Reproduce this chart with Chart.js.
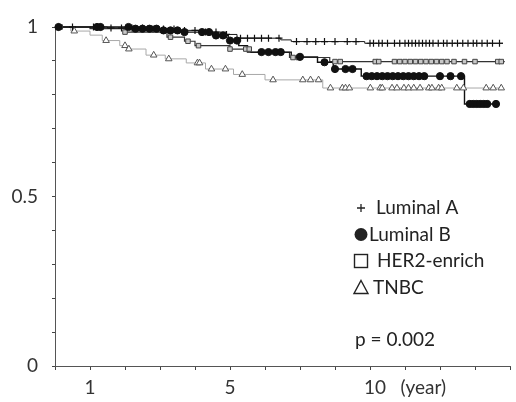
<!DOCTYPE html>
<html>
<head>
<meta charset="utf-8">
<script src="https://cdn.jsdelivr.net/npm/chart.js@4.4.1/dist/chart.umd.min.js"></script>
<style>
  html, body { margin: 0; padding: 0; background: #fff; }
</style>
</head>
<body>
<canvas id="kmChart" width="516" height="402"></canvas>
<script>
// groups, in legend order
const groups = ['Luminal A', 'Luminal B', 'HER2-enrich', 'TNBC'];

// Kaplan-Meier steps: time of drop (years) and survival after the drop
const lumAEventTimes = [1.5, 2.6, 3.5, 4.3, 4.9, 5.2, 6.45, 6.75, 8.85];
const lumASurvival   = [0.997, 0.994, 0.99, 0.985, 0.978, 0.967, 0.962, 0.957, 0.952];
const lumACensored   = [0.1, 0.5, 1.1, 1.3, 1.6, 1.9, 2.2, 2.5, 2.8, 3.1, 3.4, 3.7, 4.0, 4.3, 4.6,
                        4.9, 5.3, 5.5, 5.7, 5.9, 6.1, 6.4, 6.9, 7.2, 7.45, 7.7, 8.0, 8.35, 8.6, 9.0,
                        9.1, 9.25, 9.35, 9.5, 9.7, 9.85, 10.0, 10.1, 10.2, 10.3, 10.4, 10.5, 10.6,
                        10.7, 10.8, 10.95, 11.1, 11.2, 11.35, 11.5, 11.65, 11.8, 11.95, 12.05, 12.2,
                        12.35, 12.5, 12.7];

const lumBEventTimes = [2.2, 3.0, 3.6, 4.5, 4.95, 5.25, 5.5, 6.75, 7.5, 7.95, 8.75, 11.7];
const lumBSurvival   = [0.995, 0.99, 0.985, 0.975, 0.96, 0.945, 0.926, 0.912, 0.896, 0.876, 0.855, 0.773];
const lumBCensored   = [0.1, 1.2, 1.3, 2.1, 2.3, 2.5, 2.7, 2.9, 3.1, 3.3, 3.5, 3.7, 4.2, 4.4, 4.6,
                        4.8, 5.0, 5.2, 5.9, 6.1, 6.3, 6.45, 7.0, 7.7, 8.0, 8.3, 8.5, 8.9, 9.05, 9.2,
                        9.35, 9.5, 9.65, 9.8, 9.95, 10.1, 10.25, 10.4, 10.55, 11.0, 11.3, 11.6,
                        11.85, 11.95, 12.05, 12.15, 12.25, 12.35, 12.6];

const her2EventTimes = [1.0, 2.0, 3.2, 3.7, 4.0, 5.0, 5.6, 6.7, 7.85];
const her2Survival   = [0.995, 0.985, 0.97, 0.958, 0.945, 0.935, 0.925, 0.91, 0.898];
const her2Censored   = [0.15, 2.0, 3.3, 3.8, 4.1, 5.0, 5.45, 5.55, 6.8, 6.95, 8.0, 8.15, 9.15, 9.25,
                        9.7, 9.85, 10.0, 10.15, 10.3, 10.45, 10.6, 10.75, 10.9, 11.05, 11.2, 11.4,
                        11.7, 12.0, 12.65, 12.75];

const tnbcEventTimes = [0.45, 1.0, 1.35, 1.85, 2.05, 2.6, 3.15, 3.75, 4.3, 5.1, 6.0, 7.65];
const tnbcSurvival   = [0.988, 0.976, 0.96, 0.945, 0.935, 0.917, 0.906, 0.894, 0.876, 0.86, 0.844, 0.82];
const tnbcCensored   = [0.55, 1.46, 2.0, 2.11, 2.82, 3.25, 4.07, 4.13, 4.47, 4.87, 5.35, 6.23, 7.08,
                        7.3, 7.53, 7.87, 8.21, 8.3, 8.41, 9.01, 9.29, 9.35, 9.63, 9.77, 9.97, 10.1,
                        10.25, 10.43, 10.68, 10.77, 10.96, 11.05, 11.48, 11.67, 12.32, 12.52, 12.75];

const followUpEnd = [12.8, 12.6, 12.85, 12.8];

const xTickLabels = { 1: '1', 5: '5', 10: '10   (year)' };
const yTickLabels = ['0', '0.5', '1'];
const pValueText = 'p = 0.002';

const FONT = 'Lato, "Open Sans", sans-serif';

function stepPoints(times, surv, end) {
    const pts = [{ x: 0, y: 1 }];
    times.forEach((t, i) => pts.push({ x: t, y: surv[i] }));
    pts.push({ x: end, y: surv[surv.length - 1] });
    return pts;
}

function censorPoints(censored, times, surv) {
    return censored.map(c => {
        let s = 1;
        times.forEach((t, i) => { if (t <= c) s = surv[i]; });
        return { x: c, y: s };
    });
}

const curveData = [
    [lumAEventTimes, lumASurvival, lumACensored],
    [lumBEventTimes, lumBSurvival, lumBCensored],
    [her2EventTimes, her2Survival, her2Censored],
    [tnbcEventTimes, tnbcSurvival, tnbcCensored]
];

const lineStyles = [
    { color: '#1a1a1a', width: 1 },
    { color: '#111', width: 1.4 },
    { color: '#333', width: 1.2 },
    { color: '#a8a8a8', width: 1 }
];
const markStyles = [
    { pointStyle: 'cross', radius: 3.5, bg: '#111', border: '#111', bw: 1.2 },
    { pointStyle: 'circle', radius: 3.6, bg: '#111', border: '#111', bw: 1 },
    { pointStyle: 'rect', radius: 3.2, bg: '#c8c8c8', border: '#444', bw: 1 },
    { pointStyle: 'triangle', radius: 3.8, bg: '#fff', border: '#555', bw: 1 }
];

const datasets = [];
curveData.forEach(([times, surv, cens], i) => {
    datasets.push({
        label: groups[i],
        data: stepPoints(times, surv, followUpEnd[i]),
        showLine: true,
        stepped: true,
        borderColor: lineStyles[i].color,
        borderWidth: lineStyles[i].width,
        pointRadius: 0,
        fill: false,
        order: 10 + i
    });
    datasets.push({
        label: groups[i] + ' censored',
        data: censorPoints(cens, times, surv),
        showLine: false,
        pointStyle: markStyles[i].pointStyle,
        pointRadius: markStyles[i].radius,
        backgroundColor: markStyles[i].bg,
        borderColor: markStyles[i].border,
        pointBorderWidth: markStyles[i].bw,
        order: i
    });
});

// legend and p-value drawn inside the plot like the original figure
const annotations = {
    id: 'kmAnnotations',
    afterDraw(chart) {
        const ctx = chart.ctx;
        const x0 = 361, y0 = 208, row = 26.5;
        ctx.save();
        ctx.fillStyle = '#222';
        ctx.strokeStyle = '#222';
        ctx.font = '19px ' + FONT;
        ctx.textBaseline = 'middle';
        ctx.textAlign = 'left';

        // + Luminal A
        ctx.lineWidth = 1.3;
        ctx.beginPath();
        ctx.moveTo(x0 - 4, y0); ctx.lineTo(x0 + 4, y0);
        ctx.moveTo(x0, y0 - 4); ctx.lineTo(x0, y0 + 4);
        ctx.stroke();
        ctx.fillText(groups[0], 376, y0);

        // filled circle Luminal B
        ctx.beginPath();
        ctx.arc(x0, y0 + row, 6.5, 0, Math.PI * 2);
        ctx.fill();
        ctx.fillText(groups[1], 369, y0 + row);

        // open square HER2-enrich
        ctx.lineWidth = 1.4;
        ctx.strokeRect(x0 - 6.5, y0 + 2 * row - 6.5, 13, 13);
        ctx.fillText(groups[2], 377, y0 + 2 * row);

        // open triangle TNBC
        ctx.beginPath();
        ctx.moveTo(x0, y0 + 3 * row - 7);
        ctx.lineTo(x0 + 7, y0 + 3 * row + 6);
        ctx.lineTo(x0 - 7, y0 + 3 * row + 6);
        ctx.closePath();
        ctx.stroke();
        ctx.fillText(groups[3], 373, y0 + 3 * row);

        ctx.fillText(pValueText, 355, 340);
        ctx.restore();
    }
};

new Chart(document.getElementById('kmChart'), {
    type: 'scatter',
    data: { datasets },
    options: {
        responsive: false,
        animation: false,
        devicePixelRatio: 1,
        layout: { padding: { top: 27, right: 4, left: 0, bottom: 0 } },
        plugins: { legend: { display: false }, tooltip: { enabled: false } },
        elements: { line: { tension: 0 } },
        clip: false,
        scales: {
            x: {
                type: 'linear',
                min: 0,
                max: 13,
                afterFit(scale) { scale.height = 36; },
                border: { display: true, color: '#555', width: 1 },
                grid: { drawOnChartArea: false, drawTicks: true, tickLength: 4, color: '#444' },
                ticks: {
                    stepSize: 1,
                    autoSkip: false,
                    maxRotation: 0,
                    padding: 6,
                    color: '#333',
                    font: { family: FONT, size: 19 },
                    callback: v => xTickLabels[v] || ''
                }
            },
            y: {
                min: 0,
                max: 1,
                afterFit(scale) { scale.width = 55; },
                border: { display: true, color: '#555', width: 1 },
                grid: { drawOnChartArea: false, drawTicks: true, tickLength: 3, color: '#444' },
                ticks: {
                    stepSize: 0.1,
                    autoSkip: false,
                    padding: 14,
                    color: '#333',
                    font: { family: FONT, size: 19 },
                    callback: v => {
                        const s = String(Math.round(v * 10) / 10);
                        return yTickLabels.includes(s) ? s : '';
                    }
                }
            }
        }
    },
    plugins: [annotations]
});
</script>
</body>
</html>
